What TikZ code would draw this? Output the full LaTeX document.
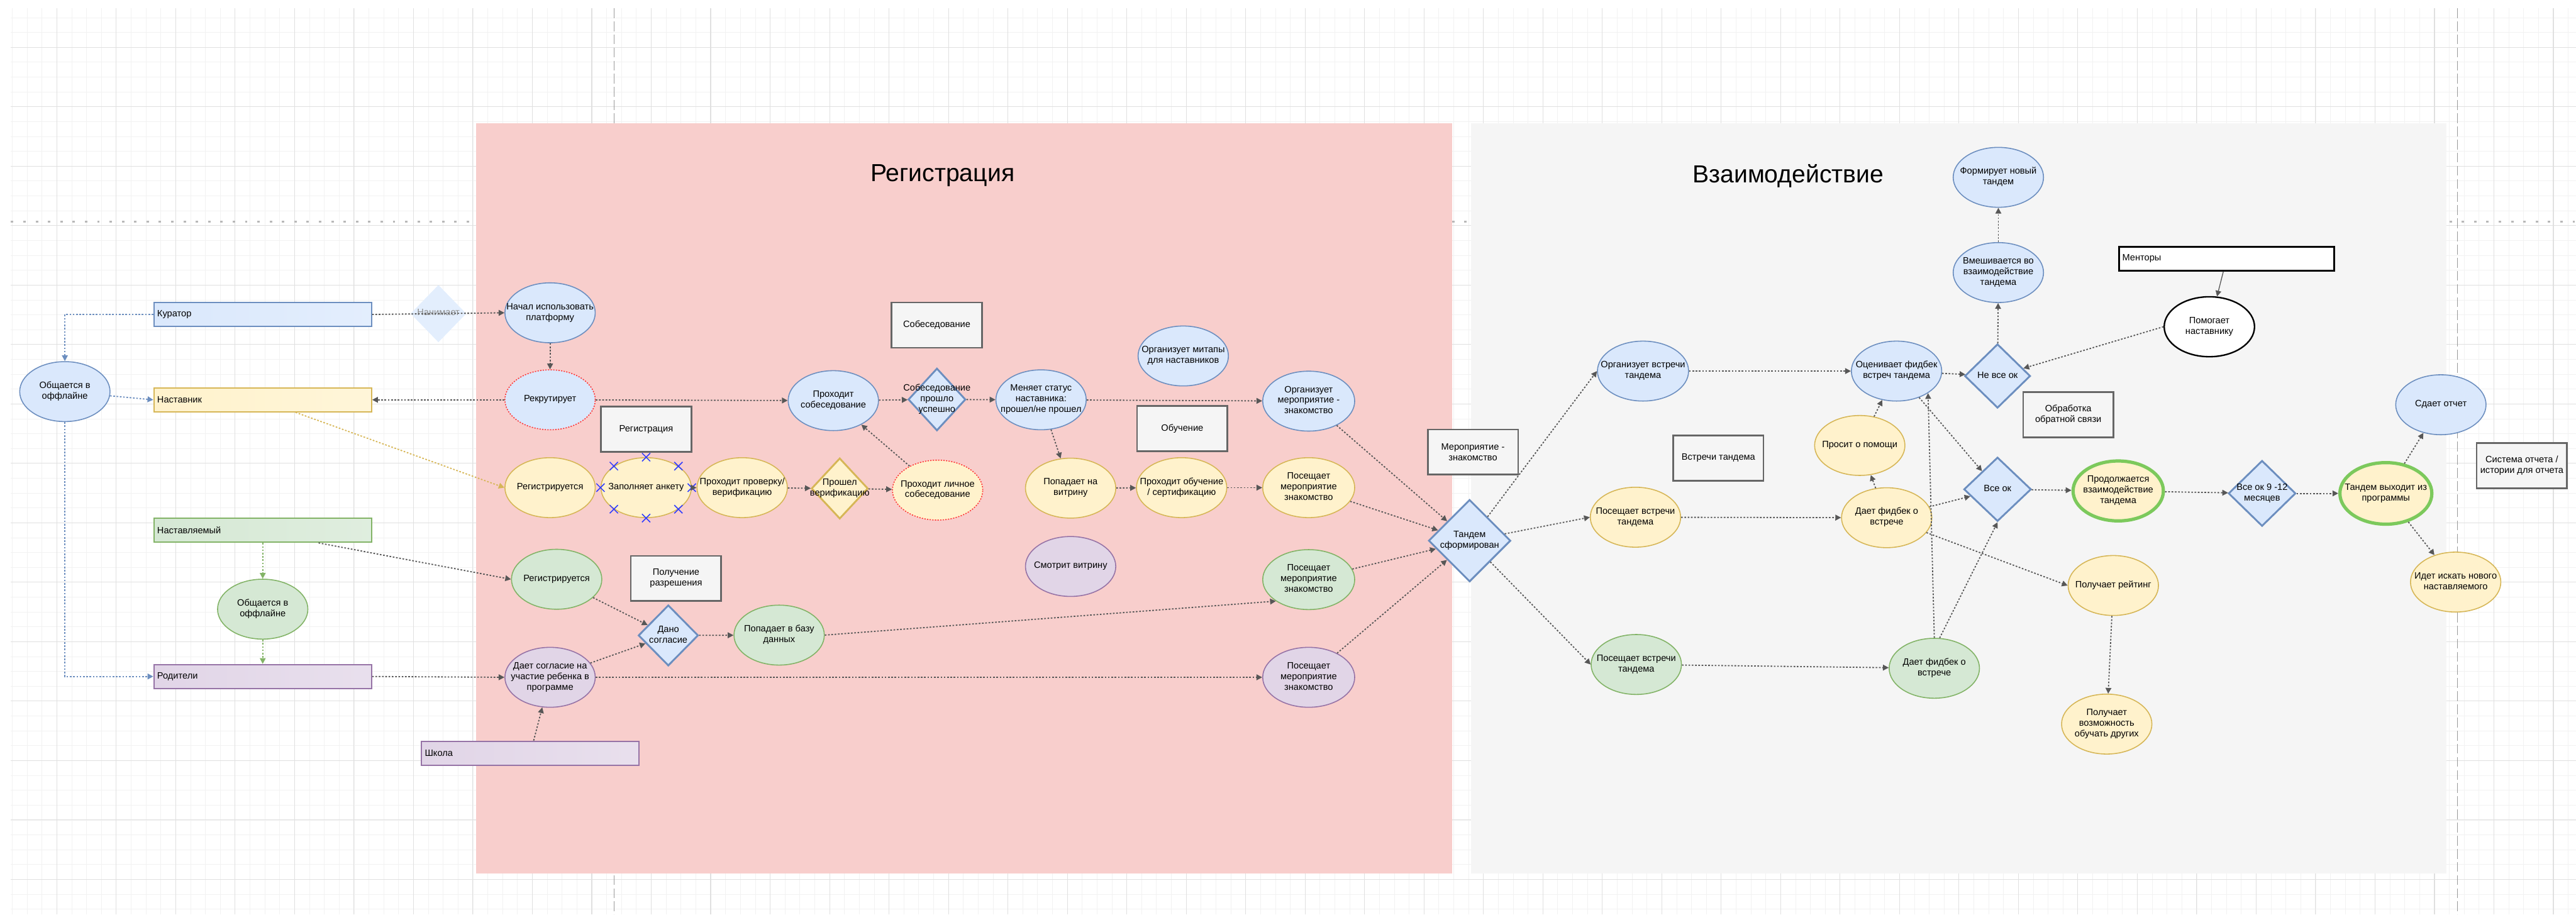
\documentclass[tikz,border=0pt]{standalone}
\usepackage{fontspec}
\setmainfont{Liberation Sans}
\usepackage{tikz}
\usetikzlibrary{positioning, arrows.meta, shapes.geometric}

\definecolor{bluefill}{HTML}{DAE8FC}
\definecolor{bluedraw}{HTML}{6C8EBF}
\definecolor{yellowfill}{HTML}{FFF2CC}
\definecolor{yellowdraw}{HTML}{D6B656}
\definecolor{greenfill}{HTML}{D5E8D4}
\definecolor{greendraw}{HTML}{82B366}
\definecolor{purplefill}{HTML}{E1D5E7}
\definecolor{purpledraw}{HTML}{9673A6}
\definecolor{boxfill}{HTML}{F5F5F5}
\definecolor{boxdraw}{HTML}{666666}
\definecolor{regfill}{HTML}{F8CECC}
\definecolor{zonefill}{HTML}{F5F5F5}
\definecolor{linkgray}{HTML}{575757}
\definecolor{brightgreen}{HTML}{7CC95C}
\definecolor{reddot}{HTML}{FF3838}
\definecolor{handleblue}{HTML}{2F3CFF}

% text of a fixed-size shape: takes no room, so the shape keeps its size
\newcommand{\nodetext}[1]{\makebox[0pt]{\raisebox{-.25em}[0pt][0pt]{\begin{tabular}{@{}c@{}}#1\end{tabular}}}}

\begin{document}
\begin{tikzpicture}[x=1pt, y=-1pt, node distance=58.5pt]
        \tikzstyle{gridminor} = [draw=black!5, line width=0.3pt]
        \tikzstyle{gridmajor} = [draw=black!12, line width=0.4pt]
        \tikzstyle{pagebreak} = [draw=black!40, line width=0.4pt, dash pattern=on 6pt off 2pt]
        \tikzstyle{pagedots} = [draw=black!28, line width=1.3pt, dash pattern=on 1.5pt off 6pt]
        \tikzstyle{base} = [font=\fontsize{5.6}{6.5}\selectfont, inner sep=0pt]
        \tikzstyle{act} = [base, ellipse, minimum width=55pt, minimum height=36.5pt, line width=0.6pt]
        \tikzstyle{blueact} = [act, draw=bluedraw, fill=bluefill]
        \tikzstyle{yellowact} = [act, draw=yellowdraw, fill=yellowfill]
        \tikzstyle{greenact} = [act, draw=greendraw, fill=greenfill]
        \tikzstyle{purpleact} = [act, draw=purpledraw, fill=purplefill]
        \tikzstyle{redline} = [draw=reddot, dash pattern=on 0.8pt off 0.8pt]
        \tikzstyle{doneact} = [yellowact, draw=brightgreen, line width=2pt]
        \tikzstyle{decide} = [base, diamond, line width=1.1pt, draw=bluedraw, fill=bluefill]
        \tikzstyle{box} = [base, rectangle, align=center, minimum width=55pt, minimum height=27.5pt, draw=boxdraw, fill=boxfill, line width=1pt]
        \tikzstyle{bar} = [base, rectangle, minimum height=14.5pt, inner sep=2pt, text width=128.5pt, align=left, line width=0.8pt]
        \tikzstyle{title} = [font=\fontsize{15}{18}\selectfont]
        \tikzstyle{link} = [draw=linkgray, line width=0.7pt, dash pattern=on 1pt off 1pt, -{Triangle[length=3.5pt, width=3.5pt]}]
        \tikzstyle{bluelink} = [link, draw=bluedraw]
        \tikzstyle{greenlink} = [link, draw=greendraw]
        \tikzstyle{yellowlink} = [link, draw=yellowdraw]
        \tikzstyle{solidlink} = [draw=linkgray, line width=0.5pt, -{Triangle[length=3.5pt, width=3.5pt]}]
        \tikzstyle{handle} = [draw=handleblue, line width=0.6pt]

        \useasboundingbox (0,0) rectangle (1568.8,557);

        % background grid and page breaks
        \foreach \gx in {0,...,172} {\draw [gridminor] ({7.45+9.05*\gx},5) -- ({7.45+9.05*\gx},557);}
        \foreach \gy in {1,...,61} {\draw [gridminor] (6.7,{1.65+9.05*\gy}) -- (1568.8,{1.65+9.05*\gy});}
        \foreach \gx in {0,...,42} {\draw [gridmajor] ({34.6+36.2*\gx},5) -- ({34.6+36.2*\gx},557);}
        \foreach \gy in {0,...,14} {\draw [gridmajor] (6.7,{28.8+36.2*\gy}) -- (1568.8,{28.8+36.2*\gy});}
        \draw [pagebreak] (374,5) -- (374,557);
        \draw [pagebreak] (1496.6,5) -- (1496.6,557);
        \draw [pagedots] (6.7,135) -- (1568.8,135);

        % zones
        \fill [regfill] (290,75) rectangle (884.5,532);
        \fill [zonefill] (896,75) rectangle (1490,532);
        \node (titleReg) [title] at (574,107) {Регистрация};
        \node (titleVz) [title] at (1089,107) {Взаимодействие};

        % participants
        \node (kurator) [bar, draw=bluedraw, left color=bluefill, right color=bluefill!75!white] at (160,191.5) {Куратор};
        \node (nastavnik) [bar, draw=yellowdraw, left color=yellowfill, right color=yellowfill!75!white] at (160,243.5) {Наставник};
        \node (nastavlyaemy) [bar, draw=greendraw, left color=greenfill, right color=greenfill!75!white] at (160,323) {Наставляемый};
        \node (roditeli) [bar, draw=purpledraw, left color=purplefill, right color=purplefill!75!white] at (160,412) {Родители};
        \node (shkola) [bar, draw=purpledraw, left color=purplefill, right color=purplefill!75!white] at (323,458.7) {Школа};
        \node (offlineK) [blueact] at (39.5,238.5) {\nodetext{Общается в\\оффлайне}};
        \node (offlineN) [greenact] at (160,371) {\nodetext{Общается в\\оффлайне}};
        \node (nanimaet) [base, diamond, fill=bluefill!75!white, text=black!45, minimum width=34pt, minimum height=35pt] at (267,191) {\nodetext{Нанимает}};

        % registration
        \node (nachal) [blueact] at (335,190.5) {\nodetext{Начал использовать\\платформу}};
        \node (rekrut) [blueact, redline] at (335,243.5) {\nodetext{Рекрутирует}};
        \node (boxReg) [box] at (393.5,261.4) {Регистрация};
        \node (regY) [yellowact] at (335,297) {\nodetext{Регистрируется}};
        \node (anketa) [yellowact, right of=regY] {\nodetext{Заполняет анкету}};
        \node (proverka) [yellowact, right of=anketa] {\nodetext{Проходит проверку/\\верификацию}};
        \node (verif) [decide, draw=yellowdraw, fill=yellowfill, minimum width=34.5pt, minimum height=37pt] at (511.4,297.5) {\nodetext{Прошел\\верификацию}};
        \node (lichnoe) [yellowact, redline] at (571,298.5) {\nodetext{Проходит личное\\собеседование}};
        \node (sobes) [blueact] at (507.5,244) {\nodetext{Проходит\\собеседование}};
        \node (boxSobes) [box] at (570.5,198) {Собеседование};
        \node (uspeh) [decide, minimum width=35pt, minimum height=38pt] at (570.6,243.3) {\nodetext{Собеседование\\прошло\\успешно}};
        \node (status) [blueact] at (634,243.5) {\nodetext{Меняет статус\\наставника:\\прошел/не прошел}};
        \node (mitap) [blueact] at (720.6,216.8) {\nodetext{Организует митапы\\для наставников}};
        \node (boxObuch) [box] at (720,261) {Обучение};
        \node (vitrina) [yellowact] at (652,297.3) {\nodetext{Попадает на\\витрину}};
        \node (obuch) [yellowact] at (719.6,297) {\nodetext{Проходит обучение\\/ сертификацию}};
        \node (smotrit) [purpleact] at (652,345) {\nodetext{Смотрит витрину}};
        \node (regG) [greenact] at (339,352.8) {\nodetext{Регистрируется}};
        \node (boxRazr) [box] at (411.7,352.3) {Получение\\разрешения};
        \node (dano) [decide, minimum width=36.5pt, minimum height=37pt] at (407,387) {\nodetext{Дано\\согласие}};
        \node (baza) [greenact] at (474.5,386.8) {\nodetext{Попадает в базу\\данных}};
        \node (soglasie) [purpleact] at (335,412.5) {\nodetext{Дает согласие на\\участие ребенка в\\программе}};
        \node (orgMer) [blueact, minimum width=56pt] at (797,244.3) {\nodetext{Организует\\мероприятие -\\знакомство}};
        \node (posMerY) [yellowact, minimum width=56pt] at (797,297) {\nodetext{Посещает\\мероприятие\\знакомство}};
        \node (posMerG) [greenact, minimum width=56pt] at (797,353) {\nodetext{Посещает\\мероприятие\\знакомство}};
        \node (posMerP) [purpleact, minimum width=56pt] at (797,412.5) {\nodetext{Посещает\\мероприятие\\знакомство}};
        \node (boxMer) [box] at (897,275.3) {Мероприятие -\\знакомство};
        \node (tandem) [decide, minimum width=50pt, minimum height=50pt] at (895,329.3) {\nodetext{Тандем\\сформирован}};

        % interaction
        \node (orgVstr) [blueact, minimum width=55.5pt] at (1000.6,226) {\nodetext{Организует встречи\\тандема}};
        \node (posVstrY) [yellowact] at (996,315) {\nodetext{Посещает встречи\\тандема}};
        \node (posVstrG) [greenact] at (996.5,404.7) {\nodetext{Посещает встречи\\тандема}};
        \node (boxVstr) [box] at (1046.5,279) {Встречи тандема};
        \node (ocen) [blueact] at (1155,226) {\nodetext{Оценивает фидбек\\встреч тандема}};
        \node (nevseok) [decide, minimum width=40pt, minimum height=39pt] at (1216.5,229) {\nodetext{Не все ок}};
        \node (vmesh) [blueact] at (1217,166) {\nodetext{Вмешивается во\\взаимодействие\\тандема}};
        \node (formir) [blueact] at (1217,108) {\nodetext{Формирует новый\\тандем}};
        \node (mentory) [base, rectangle, minimum height=14.5pt, inner sep=2pt, text width=127pt, align=left, draw=black, fill=white, line width=1.2pt] at (1356,157.5) {Менторы};
        \node (pomog) [act, draw=black, fill=white, line width=0.9pt] at (1345.5,199) {\nodetext{Помогает\\наставнику}};
        \node (boxObr) [box] at (1259.6,252.6) {Обработка\\обратной связи};
        \node (prosit) [yellowact] at (1132.6,271.3) {\nodetext{Просит о помощи}};
        \node (dfbY) [yellowact] at (1149,315.3) {\nodetext{Дает фидбек о\\встрече}};
        \node (vseok) [decide, minimum width=41pt, minimum height=39pt] at (1216.5,298) {\nodetext{Все ок}};
        \node (prodolzh) [doneact] at (1290,299) {\nodetext{Продолжается\\взаимодействие\\тандема}};
        \node (rating) [yellowact] at (1287,356.6) {\nodetext{Получает рейтинг}};
        \node (dfbG) [greenact] at (1178,407) {\nodetext{Дает фидбек о\\встрече}};
        \node (vozm) [yellowact] at (1283,441) {\nodetext{Получает\\возможность\\обучать других}};
        \node (vseok912) [decide, minimum width=41pt, minimum height=40pt] at (1377.6,300.5) {\nodetext{Все ок 9 -12\\месяцев}};
        \node (vyhod) [doneact, minimum width=56pt, minimum height=37.5pt] at (1453,300.5) {\nodetext{Тандем выходит из\\программы}};
        \node (otchet) [blueact] at (1486.5,246.5) {\nodetext{Сдает отчет}};
        \node (iskat) [yellowact] at (1495.5,354.5) {\nodetext{Идет искать нового\\наставляемого}};
        \node (boxSist) [box] at (1535.8,283.6) {Система отчета /\\истории для отчета};

        % selection handles
        \foreach \a in {north,south,east,west,north east,north west,south east,south west}
                \draw [handle] (anketa.\a) +(-2.5,-2.5) -- +(2.5,2.5) +(-2.5,2.5) -- +(2.5,-2.5);

        % connectors
        \draw [bluelink] (kurator.west) -| (offlineK);
        \draw [bluelink] (offlineK) -- (nastavnik.west);
        \draw [bluelink] (offlineK) |- (roditeli.west);
        \draw [greenlink] (nastavlyaemy) -- (offlineN);
        \draw [greenlink] (offlineN) -- (roditeli);
        \draw [yellowlink] ([xshift=20pt]nastavnik.south) -- (regY.west);
        \draw [link] ([xshift=34pt]nastavlyaemy.south) -- (regG.west);
        \draw [link] (kurator.east) -- (nachal.west);
        \draw [link] (roditeli.east) -- (soglasie.west);
        \draw [link] (shkola) -- (soglasie);
        \draw [link] (nachal) -- (rekrut);
        \draw [link] (rekrut) -- (nastavnik);
        \draw [link] (rekrut) -- (sobes);
        \draw [link] (anketa) -- (proverka);
        \draw [link] (proverka) -- (verif);
        \draw [link] (verif) -- (lichnoe);
        \draw [link] (lichnoe) -- (sobes);
        \draw [link] (sobes) -- (uspeh);
        \draw [link] (uspeh) -- (status);
        \draw [link] (status) -- (orgMer);
        \draw [link] (status) -- (vitrina);
        \draw [link] (vitrina) -- (obuch);
        \draw [link] (obuch) -- (posMerY);
        \draw [link] (regG) -- (dano);
        \draw [link] (soglasie) -- (dano);
        \draw [link] (dano) -- (baza);
        \draw [link] (baza.east) -- (posMerG.south west);
        \draw [link] (soglasie) -- (posMerP);
        \draw [link] (orgMer) -- (tandem);
        \draw [link] (posMerY) -- (tandem);
        \draw [link] (posMerG) -- (tandem);
        \draw [link] (posMerP) -- (tandem);
        \draw [link] (tandem) -- (orgVstr.west);
        \draw [link] (tandem) -- (posVstrY.west);
        \draw [link] (tandem) -- (posVstrG.west);
        \draw [link] (orgVstr) -- (ocen);
        \draw [link] (posVstrY) -- (dfbY);
        \draw [link] (posVstrG) -- (dfbG);
        \draw [link] (ocen) -- (nevseok);
        \draw [link] (nevseok) -- (vmesh);
        \draw [link] (vmesh) -- (formir);
        \draw [link] (pomog.west) -- (nevseok);
        \draw [solidlink] (mentory) -- (pomog);
        \draw [link] (ocen) -- (vseok);
        \draw [link] (dfbG.north) -- (ocen.-35);
        \draw [link] (dfbG.80) -- (vseok.south);
        \draw [link] (dfbY) -- (vseok);
        \draw [link] (dfbY) -- (rating.west);
        \draw [link] (dfbY) -- (prosit);
        \draw [link] (prosit) -- (ocen);
        \draw [link] (vseok) -- (prodolzh);
        \draw [link] (prodolzh) -- (vseok912);
        \draw [link] (vseok912) -- (vyhod);
        \draw [link] (vyhod) -- (otchet);
        \draw [link] (vyhod) -- (iskat);
        \draw [link] (rating) -- (vozm);
\end{tikzpicture}
\end{document}
